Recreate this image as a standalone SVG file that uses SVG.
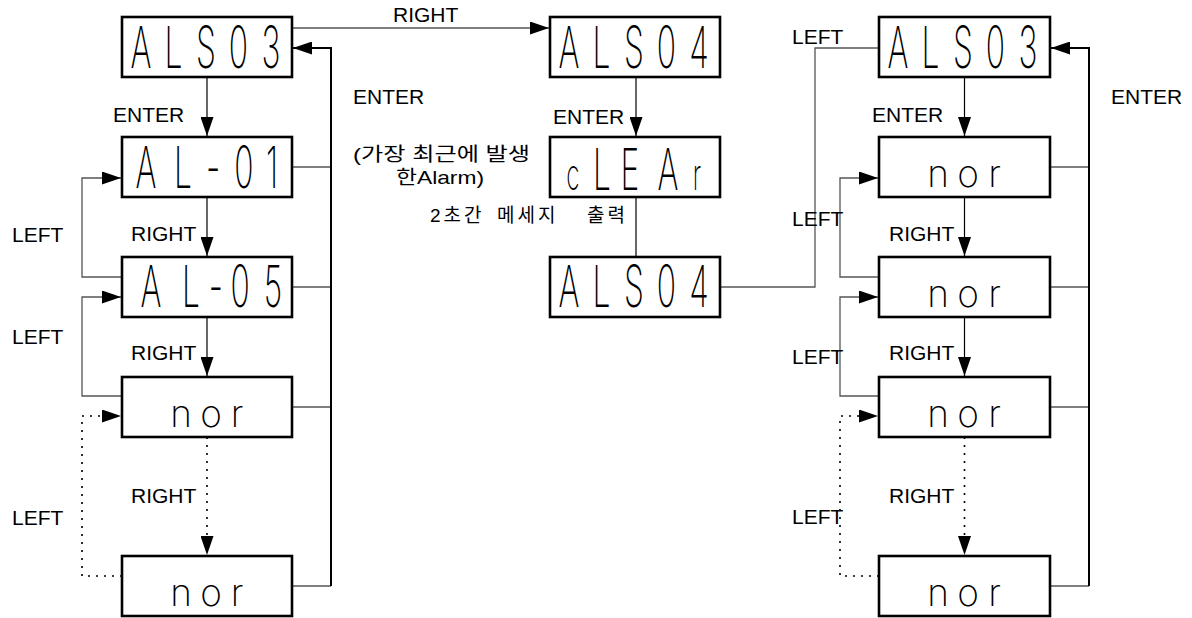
<svg xmlns="http://www.w3.org/2000/svg" width="1192" height="618" viewBox="0 0 1192 618">
<defs>
<style>
.box{fill:#fff;stroke:#000;stroke-width:2.6}
.seg{font-family:Inter,"DejaVu Sans",sans-serif;font-weight:250;font-size:58px;fill:#000;text-anchor:middle}
.low{font-family:Inter,"DejaVu Sans",sans-serif;font-weight:250;font-size:37px;fill:#000;text-anchor:middle}
.lbl{font-family:"Liberation Sans",Arial,sans-serif;font-size:21px;fill:#000}
.ko{font-family:"Liberation Sans","Noto Sans CJK KR",sans-serif;font-size:19px;fill:#000}
.ln{fill:none;stroke:#000;stroke-width:1.2}
.gr{fill:none;stroke:#555;stroke-width:1.3}
.thick{fill:none;stroke:#000;stroke-width:2}
.dot{fill:none;stroke:#000;stroke-width:1.6;stroke-dasharray:2 6}
</style>
<marker id="ah" viewBox="0 0 19 13" markerWidth="19" markerHeight="13" refX="19" refY="6.5" orient="auto" markerUnits="userSpaceOnUse">
<path d="M0,0 L19,6.5 L0,13 z" fill="#000"/>
</marker>
</defs>
<rect width="1192" height="618" fill="#fff"/>

<g id="connectors">
<path class="ln" d="M207,77 V136" marker-end="url(#ah)"/>
<path class="ln" d="M207,197 V256" marker-end="url(#ah)"/>
<path class="ln" d="M207,317 V376" marker-end="url(#ah)"/>
<path class="dot" d="M207,437 V555" marker-end="url(#ah)"/>
<path class="gr" d="M292,167 H331 M292,287 H331 M292,407 H331 M292,586 H331"/>
<path class="thick" d="M331,586 V48 H293" marker-end="url(#ah)"/>
<path class="gr" d="M122,277 H82 V178 H121" marker-end="url(#ah)"/>
<path class="gr" d="M122,396 H82 V297 H121" marker-end="url(#ah)"/>
<path class="dot" d="M122,576 H82 V416 H121" marker-end="url(#ah)"/>
<path class="gr" d="M292,28 H549" marker-end="url(#ah)"/>
<path class="ln" d="M636,77 V136" marker-end="url(#ah)"/>
<path class="ln" d="M636,197 V257"/>
<path class="gr" d="M720,287 H815 V48 H879"/>
<path class="ln" d="M964.5,77 V136" marker-end="url(#ah)"/>
<path class="ln" d="M964.5,197 V256" marker-end="url(#ah)"/>
<path class="ln" d="M964.5,317 V376" marker-end="url(#ah)"/>
<path class="dot" d="M964.5,437 V555" marker-end="url(#ah)"/>
<path class="gr" d="M1050,167 H1089 M1050,287 H1089 M1050,407 H1089 M1050,586 H1089"/>
<path class="thick" d="M1089,586 V48 H1051" marker-end="url(#ah)"/>
<path class="gr" d="M879,277 H840 V178 H878" marker-end="url(#ah)"/>
<path class="gr" d="M879,396 H840 V297 H878" marker-end="url(#ah)"/>
<path class="dot" d="M879,576 H840 V416 H878" marker-end="url(#ah)"/>
</g>

<g id="labels">
<text class="lbl" x="393" y="22">RIGHT</text>
<text class="lbl" x="113" y="122">ENTER</text>
<text class="lbl" x="353" y="104">ENTER</text>
<text class="lbl" x="131" y="241">RIGHT</text>
<text class="lbl" x="131" y="360">RIGHT</text>
<text class="lbl" x="131" y="503">RIGHT</text>
<text class="lbl" x="12" y="242">LEFT</text>
<text class="lbl" x="12" y="344">LEFT</text>
<text class="lbl" x="12" y="525">LEFT</text>
<text class="lbl" x="553" y="124">ENTER</text>
<text class="ko" x="353" y="161" textLength="177" lengthAdjust="spacingAndGlyphs">(가장 최근에 발생</text>
<text class="ko" x="396" y="184" textLength="88" lengthAdjust="spacingAndGlyphs">한Alarm)</text>
<text class="ko" y="222" letter-spacing="3"><tspan x="430">2초간</tspan> <tspan x="497">메세지</tspan> <tspan x="587">출력</tspan></text>
<text class="lbl" x="792" y="44">LEFT</text>
<text class="lbl" x="872" y="122">ENTER</text>
<text class="lbl" x="1111" y="104">ENTER</text>
<text class="lbl" x="889" y="241">RIGHT</text>
<text class="lbl" x="889" y="360">RIGHT</text>
<text class="lbl" x="889" y="503">RIGHT</text>
<text class="lbl" x="792" y="226">LEFT</text>
<text class="lbl" x="792" y="364">LEFT</text>
<text class="lbl" x="792" y="524">LEFT</text>
</g>

<g id="n-als03-left">
<rect class="box" x="122" y="17" width="170" height="60"/>
<text class="seg" transform="scale(0.55 1)" x="256.4 315.5 374.5 433.6 492.7" y="68">ALS03</text>
</g>
<g id="n-al01">
<rect class="box" x="122" y="137" width="170" height="60"/>
<text class="seg" transform="scale(0.55 1)" x="265.5 332.7 387.3 443.6 494.5" y="188">AL-01</text>
</g>
<g id="n-al05">
<rect class="box" x="122" y="257" width="170" height="60"/>
<text class="seg" transform="scale(0.55 1)" x="274.5 347.3 392.7 436.4 496.4" y="307">AL-05</text>
</g>
<g id="n-nor-left-1">
<rect class="box" x="122" y="377" width="170" height="60"/>
<text class="low" x="181 211 237" y="427">nor</text>
</g>
<g id="n-nor-left-2">
<rect class="box" x="122" y="556" width="170" height="60"/>
<text class="low" x="181 211 237" y="606">nor</text>
</g>

<g id="n-als04-top">
<rect class="box" x="550" y="17" width="170" height="60"/>
<text class="seg" transform="scale(0.55 1)" x="1034.5 1093.6 1152.7 1211.8 1270.9" y="68">ALS04</text>
</g>
<g id="n-clear">
<rect class="box" x="550" y="137" width="170" height="60"/>
<text class="seg" transform="scale(0.55 1)" x="1041.8 1094.5 1145.5 1214.5 1267.3" y="190"><tspan font-size="44">c</tspan>LEA<tspan font-size="44">r</tspan></text>
</g>
<g id="n-als04-bottom">
<rect class="box" x="550" y="257" width="170" height="60"/>
<text class="seg" transform="scale(0.55 1)" x="1034.5 1093.6 1152.7 1211.8 1270.9" y="307">ALS04</text>
</g>

<g id="n-als03-right">
<rect class="box" x="879" y="17" width="171" height="60"/>
<text class="seg" transform="scale(0.55 1)" x="1632.7 1691.8 1750.9 1810 1869.1" y="68">ALS03</text>
</g>
<g id="n-nor-right-1">
<rect class="box" x="879" y="137" width="171" height="60"/>
<text class="low" x="938 968 994.5" y="187">nor</text>
</g>
<g id="n-nor-right-2">
<rect class="box" x="879" y="257" width="171" height="60"/>
<text class="low" x="938 968 994.5" y="307">nor</text>
</g>
<g id="n-nor-right-3">
<rect class="box" x="879" y="377" width="171" height="60"/>
<text class="low" x="938 968 994.5" y="427">nor</text>
</g>
<g id="n-nor-right-4">
<rect class="box" x="879" y="556" width="171" height="60"/>
<text class="low" x="938 968 994.5" y="606">nor</text>
</g>
</svg>
